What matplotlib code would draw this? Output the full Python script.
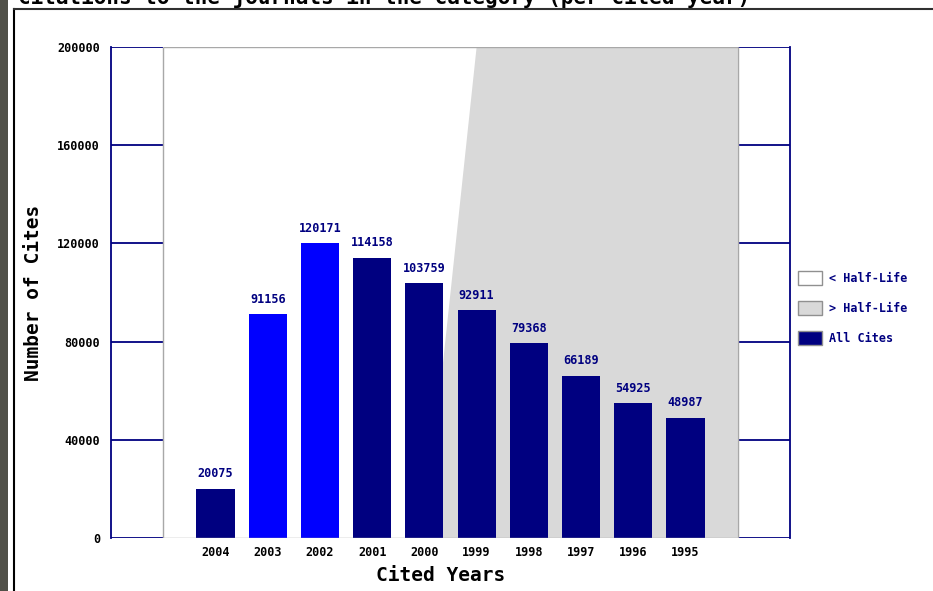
import matplotlib
matplotlib.use('Agg')
import matplotlib.pyplot as plt
from matplotlib.patches import Rectangle
from matplotlib.lines import Line2D

# data
years = ['2004', '2003', '2002', '2001', '2000', '1999', '1998', '1997', '1996', '1995']
cites = [20075, 91156, 120171, 114158, 103759, 92911, 79368, 66189, 54925, 48987]
bar_colors = ['#000080', '#0000ff', '#0000ff', '#000080', '#000080',
              '#000080', '#000080', '#000080', '#000080', '#000080']
yticks = [0, 40000, 80000, 120000, 160000, 200000]
# half-life boundary polygon (x in bar slots, y in cites)
half_x = [5, 6, 11, 11]
half_y = [0, 200000, 200000, 0]
legend_labels = ['< Half-Life', '> Half-Life', 'All Cites']
legend_fills = ['#ffffff', '#d9d9d9', '#000080']

navy = '#000080'
edge_gray = '#a8a8a8'
mono = 'DejaVu Sans Mono'

W, H = 933, 591
fig = plt.figure(figsize=(W / 100, H / 100), dpi=100)
fig.patch.set_facecolor('white')

# page frame bits
fig.add_artist(Rectangle((0, 0), 8 / W, 1, transform=fig.transFigure,
                         facecolor='#505048', edgecolor='none'))
fig.add_artist(Line2D([14 / W, 14 / W], [0, 1 - 9 / H], transform=fig.transFigure,
                      color='black', lw=1.5))
fig.add_artist(Line2D([14 / W, 1], [1 - 9 / H, 1 - 9 / H], transform=fig.transFigure,
                      color='#303030', lw=1.5))
# title is cut by the top edge, as in the source page
fig.text(18 / W, 1 - 4 / H, 'Citations to the journals in the category (per cited year)',
         family=mono, weight='bold', fontsize=15, va='baseline', ha='left')

ax = fig.add_axes([111 / W, 53 / H, 679 / W, 491 / H])
ax.set_xlim(-1, 12)
ax.set_ylim(0, 200000)

# gray region beyond half-life
ax.fill(half_x, half_y, color='#d9d9d9', zorder=1, lw=0)

xs = list(range(1, len(years) + 1))
ax.bar(xs, cites, width=0.73, color=bar_colors, zorder=2)
for x, v in zip(xs, cites):
    ax.annotate(str(v), (x, v), xytext=(0, 6), textcoords='offset points',
                ha='center', va='bottom', family=mono, weight='bold',
                fontsize=8.5, color=navy)

# side panels with navy tick lines
for y in yticks:
    ax.hlines(y, -1, 0, color=navy, lw=1.3, zorder=3)
    ax.hlines(y, 11, 12, color=navy, lw=1.3, zorder=3)
ax.vlines([0, 11], 0, 200000, color=edge_gray, lw=1, zorder=3)
ax.hlines([0, 200000], 0, 11, color=edge_gray, lw=1, zorder=3)

for s in ['top', 'bottom']:
    ax.spines[s].set_visible(False)
for s in ['left', 'right']:
    ax.spines[s].set_color(navy)
    ax.spines[s].set_linewidth(1.3)

ax.set_yticks(yticks)
ax.set_yticklabels([str(t) for t in yticks], family=mono, weight='bold', fontsize=8.5)
ax.set_xticks(xs)
ax.set_xticklabels(years, family=mono, weight='bold', fontsize=8.5)
ax.tick_params(length=0, pad=6)
ax.tick_params(axis='y', pad=8)

ax.set_ylabel('Number of Cites', family=mono, weight='bold', fontsize=14, labelpad=10)
ax.set_xlabel('Cited Years', family=mono, weight='bold', fontsize=14, labelpad=5)
ax.xaxis.label.set_x(0.486)

# legend drawn by hand
for i, (lab, fc) in enumerate(zip(legend_labels, legend_fills)):
    yc = 278 + 30 * i
    fig.add_artist(Rectangle((798 / W, 1 - (yc + 7) / H), 24 / W, 14 / H,
                             transform=fig.transFigure, facecolor=fc,
                             edgecolor='#909090', lw=1))
    fig.text(829 / W, 1 - yc / H, lab, family=mono, weight='bold', fontsize=8.5,
             color=navy, va='center', ha='left')

fig.savefig('out.png', dpi=100)
